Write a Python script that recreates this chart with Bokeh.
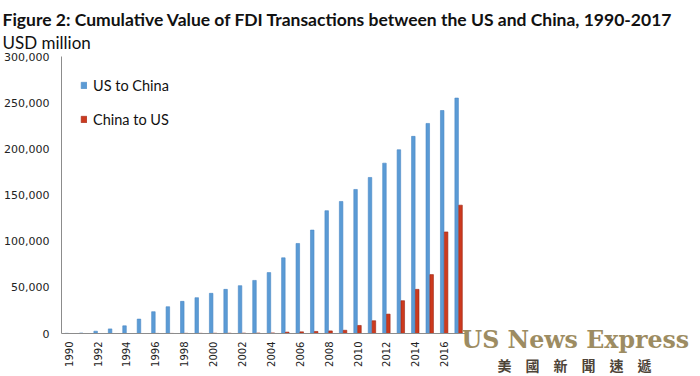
import math
from bokeh.plotting import figure
from bokeh.models import (Range1d, FixedTicker, NumeralTickFormatter, Legend,
                          LegendItem, Label, ColumnDataSource)
from bokeh.transform import dodge
from bokeh.embed import file_html
from bokeh.resources import INLINE

# ---------------- data (USD million, cumulative) ----------------
years = [1990, 1991, 1992, 1993, 1994, 1995, 1996, 1997, 1998, 1999,
         2000, 2001, 2002, 2003, 2004, 2005, 2006, 2007, 2008, 2009,
         2010, 2011, 2012, 2013, 2014, 2015, 2016, 2017]
us_to_china = [200, 500, 2500, 5000, 8300, 15600, 23600, 29000, 34800, 38800,
               43500, 47800, 51800, 57500, 66000, 82000, 97500, 112000, 133000, 143000,
               156000, 169000, 184500, 199000, 213500, 227500, 241500, 255000]
china_to_us = [0, 0, 0, 0, 0, 0, 100, 100, 200, 200,
               300, 300, 400, 500, 600, 1500, 1800, 2200, 2800, 3500,
               8700, 13800, 21000, 35500, 47800, 63800, 110000, 139000]
series_names = ["US to China", "China to US"]
tick_years = [1990, 1992, 1994, 1996, 1998, 2000, 2002, 2004, 2006, 2008,
              2010, 2012, 2014, 2016]
y_ticks = [0, 50000, 100000, 150000, 200000, 250000, 300000]
title_text = "Figure 2: Cumulative Value of FDI Transactions between the US and China, 1990-2017"
subtitle_text = "USD million"
wm_text = "US News Express"
wm_cn_text = "美　國　新　聞　速　遞"

# ---------------- layout (page pixels) ----------------
PAGE_L, PAGE_T = 0, 0
W, H = 700, 376
YAX_PX, BASE_PX, TOP_PX = 61, 333, 56
PPX = 14.44
X0 = years[0] - 0.5
Y1 = y_ticks[-1]
PPY = (BASE_PX - TOP_PX) / Y1
x_start = X0 - (YAX_PX - PAGE_L) / PPX
x_end = x_start + W / PPX
y_end = (BASE_PX - PAGE_T) / PPY
y_start = -(PAGE_T + H - BASE_PX) / PPY


def xd(px):
    return x_start + (px - PAGE_L) / PPX


def yd(py):
    return (BASE_PX - py) / PPY


BLUE, BLUE_LINE = "#5b9bd5", "#4a88c6"
RED, RED_LINE = "#cc3a1e", "#9c2412"
AXIS = "#8c8c8c"

p = figure(width=W, height=H, x_range=Range1d(x_start, x_end),
           y_range=Range1d(y_start, y_end),
           output_backend="svg", toolbar_location=None, title=None,
           min_border=0)
p.outline_line_color = None
p.xgrid.visible = False
p.ygrid.visible = False
p.background_fill_color = "white"
p.border_fill_color = "white"

src = ColumnDataSource(dict(year=years, us=us_to_china, cn=china_to_us))
r1 = p.vbar(x=dodge("year", -0.135), top="us", width=0.245, source=src,
            fill_color=BLUE, line_color=BLUE_LINE, line_width=0.6)
r2 = p.vbar(x=dodge("year", 0.135), top="cn", width=0.245, source=src,
            fill_color=RED, line_color=RED_LINE, line_width=0.6)

# axes
yax = p.yaxis[0]
yax.fixed_location = X0
yax.bounds = (0, Y1)
yax.ticker = FixedTicker(ticks=y_ticks)
yax.formatter = NumeralTickFormatter(format="0,0")
yax.major_label_text_font = "DejaVu Sans"
yax.major_label_text_font_size = "11px"
yax.major_label_text_color = "#222222"
yax.major_label_standoff = 12
yax.major_tick_out = 0
yax.major_tick_in = 0
yax.minor_tick_out = 0
yax.minor_tick_in = 0
yax.axis_line_color = AXIS

xax = p.xaxis[0]
xax.fixed_location = 0
xax.bounds = (X0, years[-1] + 0.5)
xax.ticker = FixedTicker(ticks=tick_years)
xax.major_label_orientation = math.pi / 2
xax.major_label_text_font = "DejaVu Sans"
xax.major_label_text_font_size = "10px"
xax.major_label_text_color = "#222222"
xax.major_label_standoff = 8
xax.major_tick_out = 0
xax.major_tick_in = 0
xax.minor_tick_out = 0
xax.minor_tick_in = 0
xax.axis_line_color = AXIS

legend = Legend(items=[LegendItem(label=series_names[0], renderers=[r1]),
                       LegendItem(label=series_names[1], renderers=[r2])],
                location=(80 - PAGE_L, PAGE_T + H - 129), margin=0, padding=0,
                spacing=14, glyph_width=7, glyph_height=8, label_height=20,
                label_standoff=6,
                label_text_font="Lato", label_text_font_size="14.5px",
                label_text_color="#111111",
                border_line_color=None, background_fill_alpha=0)
p.add_layout(legend)

p.add_layout(Label(x=xd(2), y=yd(18.5), text=title_text, text_font="Lato",
                   text_font_style="bold", text_font_size="17.5px",
                   text_color="#111111", text_baseline="alphabetic"))
p.add_layout(Label(x=xd(2), y=yd(41.5), text=subtitle_text, text_font="Lato",
                   text_font_size="17px", text_color="#111111",
                   text_baseline="alphabetic"))
p.add_layout(Label(x=xd(461), y=yd(339), text=wm_text, text_font="DejaVu Serif",
                   text_font_style="bold", text_font_size="23.7px",
                   text_color="#9d8c62", text_baseline="alphabetic"))
p.add_layout(Label(x=xd(497), y=yd(364), text=wm_cn_text,
                   text_font="Noto Sans CJK TC", text_font_style="bold",
                   text_font_size="14px", text_color="#4e4438",
                   text_baseline="alphabetic"))

open("out.html", "w").write(file_html(p, INLINE))
